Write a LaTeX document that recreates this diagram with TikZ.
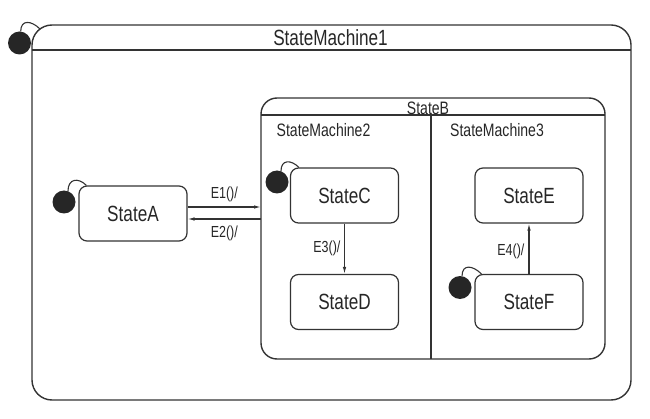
\documentclass[tikz,border=0pt]{standalone}
\usepackage{fontspec}
\setmainfont{Liberation Sans}[FakeStretch=0.78]
\usetikzlibrary{arrows.meta}

\begin{document}
\begin{tikzpicture}[
    x=1pt, y=1pt,
    machine/.style={
        rectangle,
        draw=black!80,
        line width=1.4pt,
        inner sep=0pt,
        outer sep=0pt
    },
    state/.style={
        rectangle,
        rounded corners=8pt,
        draw=black!80,
        line width=1.2pt,
        minimum width=108pt,
        minimum height=55pt,
        align=center,
        text=black!85,
        font=\fontsize{22}{26}\selectfont
    },
    startdot/.style={
        circle,
        fill=black!85,
        minimum size=23pt,
        inner sep=0pt
    },
    title/.style={text=black!85, inner sep=0pt, font=\fontsize{22}{26}\selectfont},
    region/.style={text=black!85, inner sep=0pt, font=\fontsize{18}{22}\selectfont},
    trigger/.style={text=black!85, inner sep=0pt, font=\fontsize{16}{19}\selectfont},
    arrow/.style={
        -{Latex[length=7pt,width=3.5pt]},
        line width=1.1pt,
        black!80
    },
    hook/.style={
        line width=1.1pt,
        black!80,
        out=90,
        in=135,
        looseness=1.6
    }
]

\useasboundingbox (0,0) rectangle (650,418);

% StateMachine1
\node[machine, rounded corners=20pt, minimum width=599pt, minimum height=375pt] (sm1) at (331.5,205.5) {};
\draw[line width=1.4pt, black!80] (sm1.west |- 0,368) -- (sm1.east |- 0,368);
\node[title] (sm1label) at (330.5,380.5) {StateMachine1};
\node[startdot] (init1) at (19.5,375) {};
\draw[hook] (init1.84) to ([shift={(8,-4)}]sm1.north west);

% StateA
\node[state] (stateA) at (133,204.5) {StateA};
\node[startdot] (initA) at (64,216) {};
\draw[hook] (initA.70) to ([xshift=8pt]stateA.north west);

% StateB
\node[machine, rounded corners=16pt, minimum width=344pt, minimum height=261pt] (stateB) at (433,189.5) {};
\draw[line width=1.4pt, black!80] (stateB.west |- 0,303) -- (stateB.east |- 0,303);
\draw[line width=1.4pt, black!80] (431,303) -- (stateB.south -| 431,0);
\node[region, anchor=south] (stateBlabel) at (428,303.5) {StateB};
\node[region, anchor=west] (sm2label) at (276.5,288) {StateMachine2};
\node[region, anchor=west] (sm3label) at (450,288) {StateMachine3};

% StateMachine2
\node[state] (stateC) at (344.5,222.5) {StateC};
\node[state] (stateD) at (344.5,116) {StateD};
\node[startdot] (initC) at (277,236) {};
\draw[hook] (initC.70) to ([xshift=9pt]stateC.north west);

% StateMachine3
\node[state] (stateE) at (529,222.5) {StateE};
\node[state] (stateF) at (529,116) {StateF};
\node[startdot] (initF) at (460,130.5) {};
\draw[hook] (initF.80) to ([xshift=7pt]stateF.north west);

% Transizioni
\draw[arrow] (stateA.east |- 0,211) -- node[trigger, above=5pt] {E1()/} (stateB.west |- 0,211);
\draw[arrow] (stateB.west |- 0,199) -- node[trigger, below=6pt] {E2()/} (stateA.east |- 0,199);
\draw[arrow] (stateC) -- node[trigger, left=3.5pt] {E3()/} (stateD);
\draw[arrow] (stateF) -- node[trigger, left=4pt, pos=0.45] {E4()/} (stateE);

\end{tikzpicture}
\end{document}
